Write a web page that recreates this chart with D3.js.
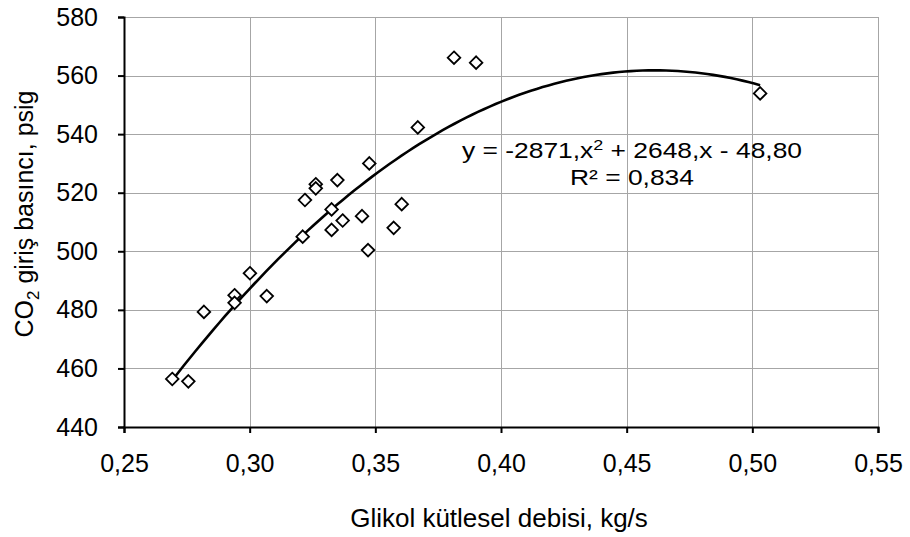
<!DOCTYPE html>
<html>
<head>
<meta charset="utf-8">
<script src="https://cdn.jsdelivr.net/npm/d3@7"></script>
<style>
  html, body { margin: 0; padding: 0; background: #fff; }
  svg { display: block; }
  text { font-family: "Liberation Sans", Arial, sans-serif; fill: #000; }
</style>
</head>
<body>
<svg id="chart" width="910" height="537"></svg>
<script>
// ---- data ----
const flowRate = [0.2692, 0.2756, 0.2818, 0.2940, 0.2940, 0.3001, 0.3068, 0.3211, 0.3220, 0.3263, 0.3263, 0.3349,
                  0.3326, 0.3326, 0.3370, 0.3447, 0.3471, 0.3476, 0.3573, 0.3605, 0.3669, 0.3813, 0.3901, 0.5031];
const pressure = [456.4, 455.6, 479.3, 485.0, 482.4, 492.5, 484.7, 505.0, 517.5, 522.9, 521.5, 524.3,
                  514.3, 507.3, 510.5, 512.0, 500.4, 530.0, 508.0, 516.1, 542.3, 566.1, 564.4, 553.9];
const trendCoef = [-2871, 2648, -48.80]; // a, b, c of y = a x^2 + b x + c (as shown on chart)
const xTicks = [0.25, 0.30, 0.35, 0.40, 0.45, 0.50, 0.55];
const yTicks = [440, 460, 480, 500, 520, 540, 560, 580];
const xTitle = "Glikol kütlesel debisi, kg/s";
const eqLine1 = ["y = -2871,x", "2", " + 2648,x - 48,80"];
const eqLine2 = "R² = 0,834";

// ---- layout ----
const W = 910, H = 537;
const m = {left: 124, right: 32, top: 17, bottom: 110};
const FONT = '"Liberation Sans", Arial, sans-serif';
const svg = d3.select("#chart");
const x = d3.scaleLinear().domain([0.25, 0.55]).range([m.left, W - m.right]);
const y = d3.scaleLinear().domain([440, 580]).range([H - m.bottom, m.top]);
const fmt = d => d.toFixed(2).replace(".", ",");

// gridlines
const grid = svg.append("g");
grid.selectAll("line.hx").data(yTicks).join("line")
  .attr("x1", m.left).attr("x2", W - m.right)
  .attr("y1", d => Math.round(y(d)) + 0.5).attr("y2", d => Math.round(y(d)) + 0.5)
  .attr("stroke", "#a6a6a6").attr("stroke-width", 1);
grid.selectAll("line.vx").data(xTicks).join("line")
  .attr("y1", m.top).attr("y2", H - m.bottom)
  .attr("x1", d => Math.round(x(d)) + 0.5).attr("x2", d => Math.round(x(d)) + 0.5)
  .attr("stroke", "#a6a6a6").attr("stroke-width", 1);

// axes
const xAxis = svg.append("g").attr("transform", `translate(0,${H - m.bottom})`)
  .call(d3.axisBottom(x).tickValues(xTicks).tickFormat(fmt).tickSizeOuter(0).tickSize(6).tickPadding(21));
const yAxis = svg.append("g").attr("transform", `translate(${m.left},0)`)
  .call(d3.axisLeft(y).tickValues(yTicks).tickFormat(d => d).tickSizeOuter(0).tickSize(6).tickPadding(20));
[xAxis, yAxis].forEach(a => {
  a.select(".domain").attr("stroke", "#000").attr("stroke-width", 2);
  a.selectAll(".tick line").attr("stroke", "#000").attr("stroke-width", 2);
  a.selectAll(".tick text").attr("font-size", 25).attr("font-family", FONT).attr("fill", "#000");
});

// trendline
const xs = d3.range(0, 101).map(i => d3.min(flowRate) + (d3.max(flowRate) - d3.min(flowRate)) * i / 100);
const trend = xs.map(v => [v, trendCoef[0] * v * v + trendCoef[1] * v + trendCoef[2]]);
svg.append("path").datum(trend)
  .attr("d", d3.line().x(d => x(d[0])).y(d => y(d[1])))
  .attr("fill", "none").attr("stroke", "#000").attr("stroke-width", 2.6);

// markers
const pts = flowRate.map((v, i) => [v, pressure[i]]);
svg.append("g").selectAll("path").data(pts).join("path")
  .attr("transform", d => `translate(${x(d[0])},${y(d[1])})`)
  .attr("d", "M0,-6.3L6.3,0L0,6.3L-6.3,0Z")
  .attr("fill", "#fff").attr("stroke", "#000").attr("stroke-width", 1.8);

// equation (text box is stretched horizontally in the original)
const eqG = svg.append("g").attr("transform", "translate(632,0) scale(1.2,1)");
const eq = eqG.append("text").attr("x", 0).attr("y", 158).attr("text-anchor", "middle").attr("font-size", 22);
eq.append("tspan").text(eqLine1[0]);
eq.append("tspan").attr("dy", -8).attr("font-size", 15).text(eqLine1[1]);
eq.append("tspan").attr("dy", 8).text(eqLine1[2]);
eqG.append("text").attr("x", 0).attr("y", 185).attr("text-anchor", "middle").attr("font-size", 22).text(eqLine2);

// axis titles
svg.append("text").attr("x", 499).attr("y", 527).attr("text-anchor", "middle").attr("font-size", 26).text(xTitle);
const yt = svg.append("text").attr("transform", "translate(33,214) rotate(-90)").attr("text-anchor", "middle").attr("font-size", 25);
yt.append("tspan").text("CO");
yt.append("tspan").attr("dy", 6).attr("font-size", 17).text("2");
yt.append("tspan").attr("dy", -6).text(" giriş basıncı, psig");
</script>
</body>
</html>
